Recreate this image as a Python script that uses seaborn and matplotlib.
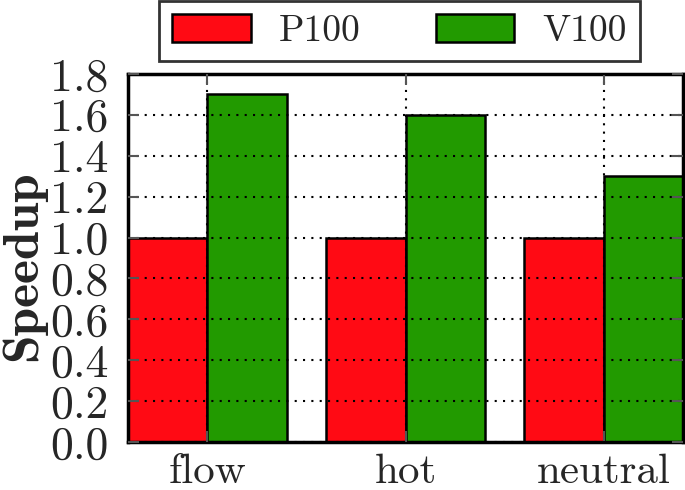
import matplotlib
matplotlib.use("Agg")
import matplotlib.pyplot as plt
import seaborn as sns
import pandas as pd

apps = ["flow", "hot", "neutral"]
gpus = ["P100", "V100"]
p100 = [1.0, 1.0, 1.0]
v100 = [1.7, 1.6, 1.3]
yticks = [0.0, 0.2, 0.4, 0.6, 0.8, 1.0, 1.2, 1.4, 1.6, 1.8]

df = pd.DataFrame({
    "app": apps * 2,
    "gpu": [gpus[0]] * 3 + [gpus[1]] * 3,
    "speedup": p100 + v100,
})

sns.set_style("ticks")
plt.rcParams["font.family"] = ["cmr10", "DejaVu Serif"]
plt.rcParams["axes.unicode_minus"] = False
plt.rcParams["axes.formatter.use_mathtext"] = True

fig = plt.figure(figsize=(6.85, 4.9), dpi=100)
ax = fig.add_axes([0.187, 0.098, 0.810, 0.751])

sns.barplot(data=df, x="app", y="speedup", hue="gpu", order=apps, hue_order=gpus,
            palette=["#FF0A14", "#229A00"], edgecolor="black", linewidth=1.8,
            width=0.8, saturation=1, ax=ax, legend=True)

ax.set_xlim(-0.4, 2.4)
ax.set_ylim(0, 1.8)
ax.set_yticks(yticks)
ax.set_yticklabels([f"{v:.1f}" for v in yticks], fontsize=33)
ax.set_xlabel("")
ax.set_ylabel("Speedup", fontsize=37, family="cmb10")
ax.yaxis.set_label_coords(-0.148, 0.48)
ax.grid(True, linestyle=(0, (1, 3)), color="black", linewidth=1.5)
ax.set_axisbelow(False)
for s in ax.spines.values():
    s.set_visible(True)
    s.set_linewidth(2.5)
    s.set_color("black")
ax.tick_params(axis="both", direction="in", length=8, width=1.5, color="#555555",
               top=True, right=True)
ax.tick_params(axis="y", pad=14)
ax.tick_params(axis="x", labelsize=31, pad=8)

leg = ax.get_legend()
handles = leg.legend_handles
leg.remove()
fig.legend(handles, gpus, loc="upper center", bbox_to_anchor=(0.583, 0.998), ncol=2,
           fontsize=27, frameon=True, fancybox=False, edgecolor="black",
           handlelength=2.1, handleheight=0.78, columnspacing=2.0, borderpad=0.35,
           handletextpad=0.75, borderaxespad=0.0)
fig.legends[0].get_frame().set_linewidth(2)

fig.savefig("out.png", dpi=100)
